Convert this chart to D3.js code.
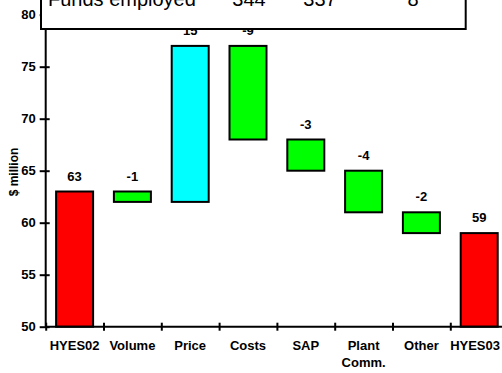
<!DOCTYPE html>
<html>
<head>
<meta charset="utf-8">
<script src="https://cdn.jsdelivr.net/npm/d3@7"></script>
<style>
  html, body { margin: 0; padding: 0; background: #fff; }
  svg { display: block; }
  text { font-family: "Liberation Sans", Arial, sans-serif; }
</style>
</head>
<body>
<div id="chart"></div>
<script>
// Profit bridge, HYES02 -> HYES03 ($ million)
const categories = ["HYES02", "Volume", "Price", "Costs", "SAP", "Plant\nComm.", "Other", "HYES03"];
const changes    = [63, -1, 15, -9, -3, -4, -2, 59];
const kinds      = ["total", "step", "step", "step", "step", "step", "step", "total"];
const yTicks     = [50, 55, 60, 65, 70, 75, 80];
const headerTexts = ["Funds employed", "344", "337", "8"];

const W = 502, H = 373;
const svg = d3.select("#chart").append("svg").attr("width", W).attr("height", H);

const x0 = 45.7, step = 57.8;
const x = d3.scaleBand()
  .domain(categories)
  .range([x0, x0 + step * categories.length])
  .paddingInner(0.36)
  .paddingOuter(0.18);
const xEdge = d3.scaleLinear().domain([0, categories.length]).range([x0, x0 + step * categories.length]);
const y = d3.scaleLinear().domain([50, 80]).range([326.7, 14.7]);

// Running totals for the floating bars
let run = 0;
const bars = changes.map((v, i) => {
  let lo, hi;
  if (kinds[i] === "total") { lo = 50; hi = v; run = v; }
  else { const s = run; run = s + v; lo = Math.min(s, run); hi = Math.max(s, run); }
  const fill = kinds[i] === "total" ? "#ff0000" : (v > 0 ? "#00ffff" : "#00ff00");
  return { cat: categories[i], v, lo, hi, fill };
});

// Bars
svg.append("g").selectAll("rect").data(bars).join("rect")
  .attr("x", d => x(d.cat))
  .attr("width", x.bandwidth())
  .attr("y", d => y(d.hi))
  .attr("height", d => y(d.lo) - y(d.hi))
  .attr("fill", d => d.fill)
  .attr("stroke", "#000")
  .attr("stroke-width", 2);

// Value labels
svg.append("g").selectAll("text").data(bars).join("text")
  .attr("x", d => x(d.cat) + x.bandwidth() / 2)
  .attr("y", d => y(d.hi) - 11)
  .attr("text-anchor", "middle")
  .attr("font-size", 13)
  .attr("font-weight", "bold")
  .attr("fill", "#000")
  .text(d => d.v);

// Y axis with ticks crossing the line
const yAxis = svg.append("g").attr("transform", `translate(${x0},0)`)
  .call(d3.axisLeft(y).tickValues(yTicks).tickSize(6).tickPadding(4));
yAxis.select(".domain").attr("d", `M0,${y(80)}V${y(50)}`).attr("stroke-width", 2);
yAxis.selectAll(".tick line").attr("x1", 4).attr("x2", -6).attr("stroke-width", 2);
yAxis.selectAll(".tick text")
  .attr("x", -10)
  .attr("font-size", 13).attr("font-weight", "bold")
  .attr("font-family", "Liberation Sans, Arial, sans-serif");

// X axis: ticks at category boundaries
const xAxis = svg.append("g").attr("transform", `translate(0,${y(50)})`)
  .call(d3.axisBottom(xEdge).tickValues(d3.range(categories.length + 1)).tickFormat("").tickSize(4));
xAxis.select(".domain").attr("d", `M${x0},0H${W + 10}`).attr("stroke-width", 2);
xAxis.selectAll(".tick line").attr("y1", -4).attr("y2", 4).attr("stroke-width", 2);

// Category labels, kept inside the right edge
const catG = svg.append("g");
categories.forEach(c => {
  const cx = x(c) + x.bandwidth() / 2;
  const t = catG.append("text")
    .attr("y", 350)
    .attr("text-anchor", "middle")
    .attr("font-size", 13)
    .attr("font-weight", "bold");
  const spans = c.split("\n").map((line, j) =>
    t.append("tspan").attr("x", cx).attr("dy", j === 0 ? 0 : 17).text(line));
  const half = t.node().getBBox().width / 2;
  const px = Math.min(cx, W - 2 - half);
  spans.forEach(s => s.attr("x", px));
});

// Y axis title
svg.append("text")
  .attr("transform", `translate(18,172) rotate(-90)`)
  .attr("text-anchor", "middle")
  .attr("font-size", 12)
  .attr("font-weight", "bold")
  .text("$ million");

// Header box, running off the top edge
svg.append("rect")
  .attr("x", 41).attr("y", -40)
  .attr("width", 424.7).attr("height", 69)
  .attr("fill", "#fff")
  .attr("stroke", "#000")
  .attr("stroke-width", 2);
const headerX = [48, 249, 320, 413];
headerTexts.forEach((t, i) => {
  svg.append("text")
    .attr("x", headerX[i])
    .attr("y", 6)
    .attr("text-anchor", i === 0 ? "start" : "middle")
    .attr("font-size", 20)
    .text(t);
});
</script>
</body>
</html>
